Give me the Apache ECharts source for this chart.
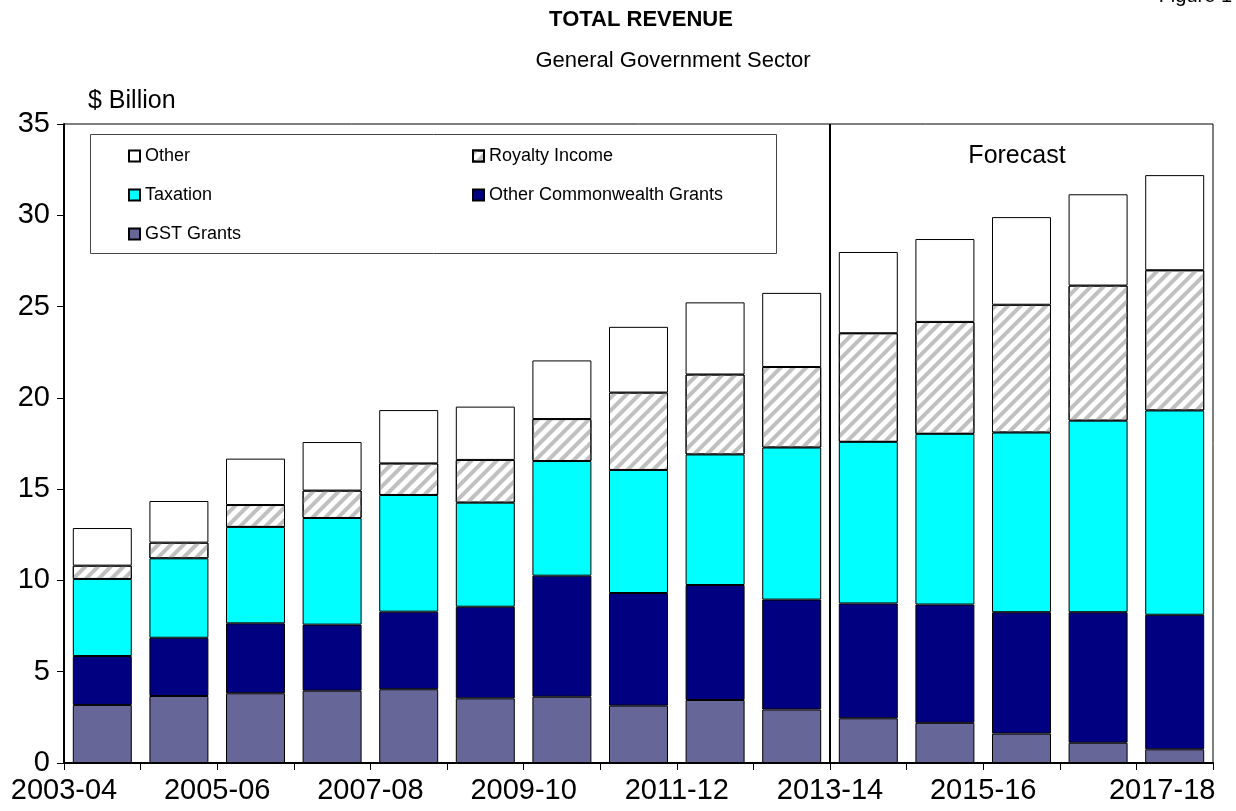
<!DOCTYPE html>
<html>
<head>
<meta charset="utf-8">
<script src="https://cdn.jsdelivr.net/npm/echarts@6/dist/echarts.min.js"></script>
<style>html,body{margin:0;padding:0;background:#fff}#c{width:1236px;height:811px}</style>
</head>
<body>
<div id="c"></div>
<script>
// ---- Data ($ Billion) ----
const categories = ['2003-04','2004-05','2005-06','2006-07','2007-08','2008-09','2009-10','2010-11','2011-12','2012-13','2013-14','2014-15','2015-16','2016-17','2017-18'];
const gstGrants        = [3.18, 3.67, 3.82, 3.96, 4.04, 3.54, 3.63, 3.14, 3.45, 2.93, 2.45, 2.20, 1.61, 1.11, 0.75];
const otherCwlthGrants = [2.68, 3.19, 3.83, 3.62, 4.25, 5.02, 6.63, 6.17, 6.30, 6.02, 6.29, 6.48, 6.65, 7.15, 7.37];
const taxation         = [4.22, 4.35, 5.28, 5.84, 6.39, 5.70, 6.28, 6.74, 7.15, 8.33, 8.85, 9.35, 9.84, 10.49, 11.19];
const royaltyIncome    = [0.73, 0.86, 1.20, 1.50, 1.73, 2.34, 2.30, 4.24, 4.38, 4.41, 5.95, 6.13, 7.00, 7.40, 7.68];
const otherRevenue     = [2.06, 2.28, 2.54, 2.66, 2.92, 2.92, 3.21, 3.60, 3.95, 4.06, 4.45, 4.54, 4.80, 5.00, 5.21];
const firstForecastIndex = 10;
const yMin = 0, yMax = 35, yStep = 5;

const FONT = 'Liberation Sans, Arial, sans-serif';
const chart = echarts.init(document.getElementById('c'), null, {renderer: 'canvas'});

const gridL = 64, gridR = 23, gridT = 124, gridB = 48;
const catW = (1236 - gridL - gridR) / categories.length;

function barSeries(name, data, color, extra) {
  return Object.assign({
    name: name, type: 'bar', stack: 'total', data: data,
    barCategoryGap: '23%',
    itemStyle: {color: color, borderColor: '#000', borderWidth: 1},
    emphasis: {disabled: true}
  }, extra || {});
}

const legendText = {fontSize: 18, fontFamily: FONT, color: '#000', lineHeight: 20};
const royaltyDecal = {symbol: 'rect', symbolSize: 1, color: '#C0C0C0', dashArrayX: [1, 0], dashArrayY: [4, 5], rotation: -Math.PI / 4};

const option = {
  animation: false,
  backgroundColor: '#fff',
  grid: {left: gridL, right: gridR, top: gridT, bottom: gridB, show: true, borderColor: '#000', borderWidth: 1, backgroundColor: 'transparent'},
  legend: [
    {data: [
       {name: 'Other', itemStyle: {decal: 'none'}},
       {name: 'Taxation', itemStyle: {decal: 'none'}},
       {name: 'GST Grants', itemStyle: {decal: 'none'}}
     ], orient: 'vertical', left: 123, top: 141,
     itemWidth: 11, itemHeight: 11, itemGap: 19, icon: 'rect', textStyle: legendText, selectedMode: false},
    {data: [
       {name: 'Royalty Income'},
       {name: 'Other Commonwealth Grants', itemStyle: {decal: 'none'}}
     ], orient: 'vertical', left: 467, top: 141,
     itemWidth: 11, itemHeight: 11, itemGap: 19, icon: 'rect', textStyle: legendText, selectedMode: false}
  ],
  xAxis: {
    type: 'category', data: categories, boundaryGap: true,
    axisLine: {lineStyle: {color: '#000', width: 2}},
    axisTick: {show: true, interval: 0, length: 7, lineStyle: {color: '#000', width: 1}},
    axisLabel: {
      interval: 1, margin: 13, color: '#000',
      formatter: function (v, i) { return (i === categories.length - 1 ? '{e|' : '{b|') + v + '}'; },
      rich: {
        b: {fontSize: 29, fontFamily: FONT, color: '#000', padding: [0, catW, 0, 0]},
        e: {fontSize: 29, fontFamily: FONT, color: '#000', padding: [0, 25, 0, 0]}
      }
    }
  },
  yAxis: {
    type: 'value', min: yMin, max: yMax, interval: yStep,
    axisLine: {show: true, lineStyle: {color: '#000', width: 2}},
    axisTick: {show: true, length: 7, lineStyle: {color: '#000', width: 1}},
    splitLine: {show: false},
    axisLabel: {fontSize: 29, fontFamily: FONT, color: '#000', margin: 14}
  },
  series: [
    barSeries('GST Grants', gstGrants, '#666699'),
    barSeries('Other Commonwealth Grants', otherCwlthGrants, '#000080'),
    barSeries('Taxation', taxation, '#00FFFF'),
    barSeries('Royalty Income', royaltyIncome, '#FFFFFF', {
      itemStyle: {color: '#FFFFFF', borderColor: '#000', borderWidth: 1, decal: royaltyDecal}
    }),
    barSeries('Other', otherRevenue, '#FFFFFF')
  ],
  graphic: [
    {type: 'text', style: {text: 'TOTAL REVENUE', x: 641, y: 20, font: 'bold 22px ' + FONT, fill: '#000', textAlign: 'center', textVerticalAlign: 'middle'}},
    {type: 'text', style: {text: 'General Government Sector', x: 673, y: 61, font: '22px ' + FONT, fill: '#000', textAlign: 'center', textVerticalAlign: 'middle'}},
    {type: 'text', style: {text: 'Figure 1', x: 1232, y: -4, font: '20px ' + FONT, fill: '#000', textAlign: 'right', textVerticalAlign: 'middle'}},
    {type: 'text', style: {text: '$ Billion', x: 88, y: 101, font: '25px ' + FONT, fill: '#000', textAlign: 'left', textVerticalAlign: 'middle'}},
    {type: 'text', style: {text: 'Forecast', x: 1017, y: 156, font: '25px ' + FONT, fill: '#000', textAlign: 'center', textVerticalAlign: 'middle'}},
    {type: 'rect', shape: {x: 90.5, y: 134.5, width: 686, height: 119}, style: {fill: '#fff', stroke: '#444', lineWidth: 1}, z: 0}
  ]
};
chart.setOption(option);

// forecast divider at category boundary
const xa = chart.convertToPixel({xAxisIndex: 0}, categories[firstForecastIndex - 1]);
const xb = chart.convertToPixel({xAxisIndex: 0}, categories[firstForecastIndex]);
const yTop = chart.convertToPixel({yAxisIndex: 0}, yMax);
const yBot = chart.convertToPixel({yAxisIndex: 0}, yMin);
const xd = (xa + xb) / 2;
option.graphic.push({type: 'line', shape: {x1: xd, y1: yTop, x2: xd, y2: yBot}, style: {stroke: '#000', lineWidth: 2}, z: 10});
chart.setOption({graphic: option.graphic});
</script>
</body>
</html>
